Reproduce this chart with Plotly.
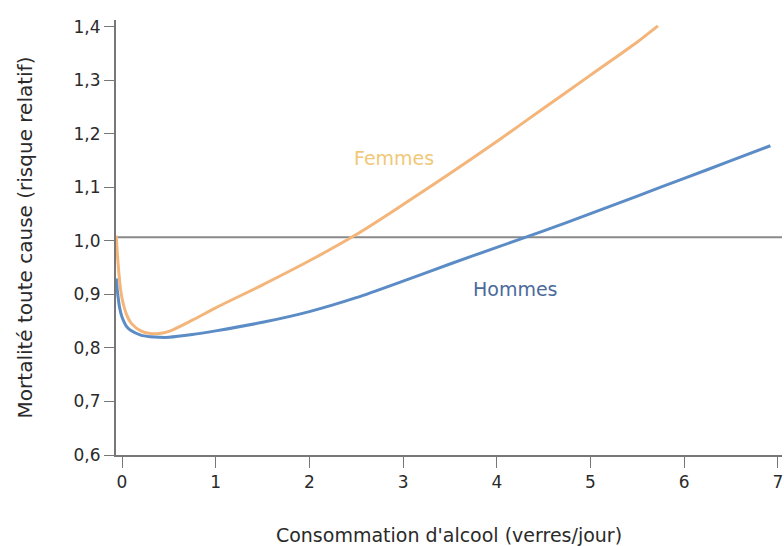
import plotly.graph_objects as go

x_femmes = [-0.062, -0.045, -0.025, 0.0, 0.05, 0.1, 0.2, 0.3, 0.4, 0.5, 0.75, 1.0, 1.5, 2.0, 2.5, 3.0, 3.5, 4.0, 4.5, 5.0, 5.5, 5.72]
y_femmes = [1.01, 0.965, 0.925, 0.893, 0.862, 0.846, 0.832, 0.827, 0.827, 0.831, 0.852, 0.875, 0.918, 0.963, 1.012, 1.068, 1.126, 1.186, 1.248, 1.31, 1.372, 1.402]

x_hommes = [-0.062, -0.045, -0.025, 0.0, 0.05, 0.1, 0.2, 0.3, 0.4, 0.5, 0.75, 1.0, 1.5, 2.0, 2.5, 3.0, 3.5, 4.0, 4.5, 5.0, 5.5, 6.0, 6.5, 6.92]
y_hommes = [0.93, 0.9, 0.875, 0.858, 0.84, 0.832, 0.824, 0.821, 0.82, 0.82, 0.825, 0.832, 0.848, 0.868, 0.894, 0.925, 0.957, 0.988, 1.019, 1.051, 1.084, 1.117, 1.15, 1.178]

ref_level = 1.007
x_ticks = [0, 1, 2, 3, 4, 5, 6, 7]
y_ticks = [0.6, 0.7, 0.8, 0.9, 1.0, 1.1, 1.2, 1.3, 1.4]
y_tick_labels = ["0,6", "0,7", "0,8", "0,9", "1,0", "1,1", "1,2", "1,3", "1,4"]

FONT = "DejaVu Sans"

fig = go.Figure()
fig.add_hline(y=ref_level, line=dict(color="#8a8a8a", width=2), layer="below")
fig.add_trace(go.Scatter(x=x_femmes, y=y_femmes, mode="lines",
                         line=dict(color="#f4b57a", width=3, shape="spline", smoothing=0.8), showlegend=False))
fig.add_trace(go.Scatter(x=x_hommes, y=y_hommes, mode="lines",
                         line=dict(color="#5b8cc6", width=3, shape="spline", smoothing=0.8), showlegend=False))

fig.add_annotation(x=2.9, y=1.155, text="Femmes", showarrow=False,
                   font=dict(color="#f0c878", size=19, family=FONT))
fig.add_annotation(x=4.2, y=0.91, text="Hommes", showarrow=False,
                   font=dict(color="#4a6a9c", size=19, family=FONT))

fig.update_layout(
    width=784, height=546,
    margin=dict(l=116, r=2, t=20, b=91),
    plot_bgcolor="white", paper_bgcolor="white",
    font=dict(family=FONT, size=17, color="#2a2a2a"),
    xaxis=dict(range=[-0.064, 7.044], tickvals=x_ticks, ticks="outside", ticklen=11, tickcolor="#777777",
               showgrid=False, zeroline=False, showline=True, linecolor="#777777", linewidth=2,
               title=dict(text="Consommation d'alcool (verres/jour)", standoff=37, font=dict(size=19))),
    yaxis=dict(range=[0.6, 1.413], tickvals=y_ticks, ticktext=y_tick_labels, ticks="outside", ticklen=10, tickcolor="#777777",
               showgrid=False, zeroline=False, showline=True, linecolor="#777777", linewidth=2,
               title=dict(text="Mortalité toute cause (risque relatif)", standoff=36, font=dict(size=20))),
)
fig.write_html("out.html")
